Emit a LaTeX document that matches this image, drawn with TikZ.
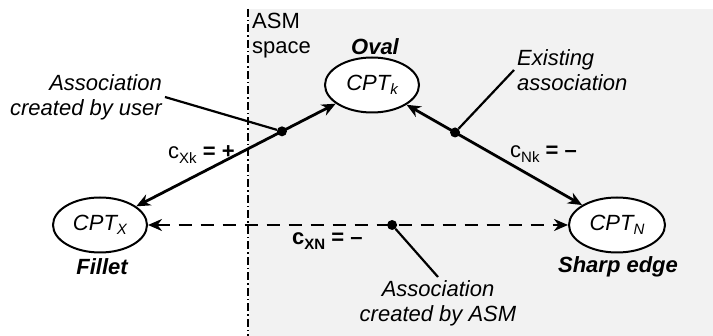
\documentclass[tikz,border=0pt]{standalone}
\usepackage{fontspec}
\setmainfont{Liberation Sans}
\usetikzlibrary{arrows.meta,calc,shapes.geometric}
\definecolor{asmgrey}{RGB}{242,242,242}
% lowered small subscript in text mode
\newcommand\lowsub[1]{\raisebox{-4.5pt}{\fontsize{15}{15}\selectfont #1}}

\begin{document}
\begin{tikzpicture}[x=1pt,y=-1pt,
  font=\fontsize{22}{25}\selectfont,
  cpt/.style={draw, line width=2pt, ellipse, fill=white,
    minimum width=94pt, minimum height=55pt, inner sep=0pt,
    font=\fontsize{22}{25}\selectfont\itshape},
  link/.style={line width=2.8pt, {Stealth[length=14pt,width=12pt,inset=4.5pt]}-{Stealth[length=14pt,width=12pt,inset=4.5pt]}},
  dashlink/.style={link, dash pattern=on 13pt off 9pt},
  dot/.style={circle, fill=black, inner sep=0pt, minimum size=10pt},
  note/.style={font=\fontsize{22}{25}\selectfont\itshape, inner sep=3pt},
  pointer/.style={line width=2.2pt},
  tag/.style={font=\fontsize{22}{25}\selectfont\bfseries\itshape},
  coef/.style={anchor=base west, inner sep=0pt}]

  % canvas and the ASM region
  \useasboundingbox (0,0) rectangle (713,336);
  \fill[white] (0,0) rectangle (713,336);
  \fill[asmgrey] (249,9) rectangle (713,336);
  \coordinate (bTop) at (248,9);
  \coordinate (bBot) at (248,336);
  \draw[line width=1.5pt, dash pattern=on 8pt off 3pt on 1.5pt off 3pt] (bTop) -- (bBot);
  \node[anchor=north west, align=left, inner sep=0pt] (asm) at (252,13) {ASM\\space};

  % concept nodes
  \node[cpt] (k) at (372,85) {CPT\lowsub{k}};
  \node[cpt] (X) at (100,225) {CPT\lowsub{X}};
  \node[cpt, minimum width=96pt] (N) at (617,225) {CPT\lowsub{N}};

  \node[tag] (oval) at (375,47) {Oval};
  \node[tag] (fillet) at (102,267) {Fillet};
  \node[tag] (sharp) at (618,267) {Sharp edge};

  % associations
  \draw[link] (X) -- (k);
  \draw[link] (k) -- (N);
  \draw[dashlink] (X) -- (N);

  \node[dot] (d1) at ($(X)!0.669!(k)$) {};
  \node[dot] (d2) at ($(k)!0.339!(N)$) {};
  \node[dot] (d3) at ($(X)!0.565!(N)$) {};

  % coefficients
  \node[coef] (cxk) at (168,159) {c\lowsub{Xk} \textbf{= +}};
  \node[coef] (cnk) at (510,158) {c\lowsub{Nk} \textbf{= --}};
  \node[coef, font=\fontsize{22}{25}\selectfont\bfseries] (cxn) at (292,245) {c\lowsub{XN} = --};

  % annotations
  \node[note, anchor=east, align=right] (tuser) at (165,97) {Association\\created by user};
  \node[note, anchor=west, align=left] (texist) at (514,70) {Existing\\association};
  \node[note, anchor=north, align=center] (tasm) at (438,277) {Association\\created by ASM};

  \draw[pointer] (tuser.east) -- (d1);
  \draw[pointer] (texist.west) -- (d2);
  \draw[pointer] (tasm.north) -- (d3);
\end{tikzpicture}
\end{document}
